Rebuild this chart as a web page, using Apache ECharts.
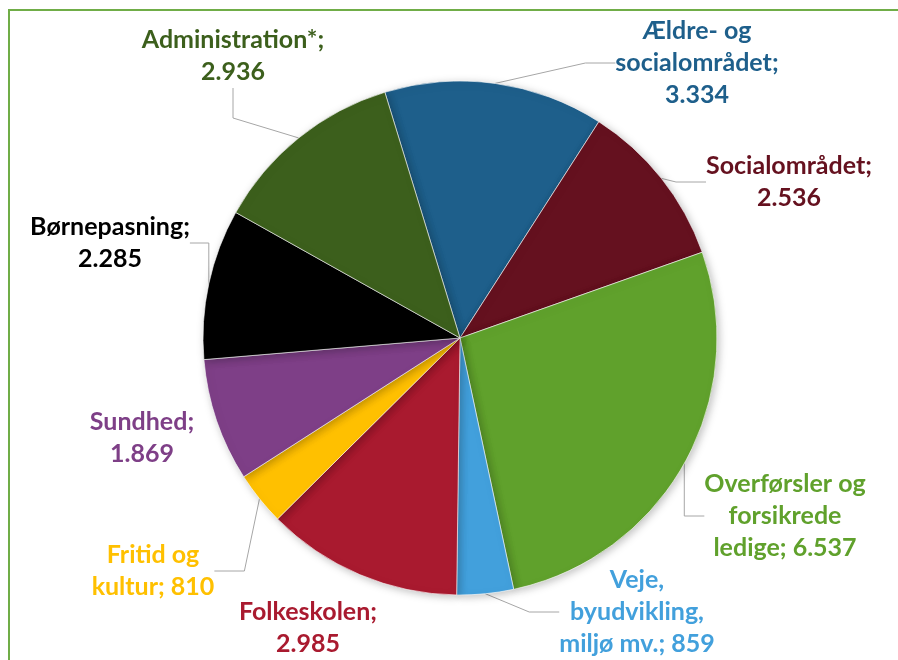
<!DOCTYPE html>
<html>
<head>
<meta charset="utf-8">
<script src="https://cdn.jsdelivr.net/npm/echarts@6/dist/echarts.min.js"></script>
<style>
  html, body { margin: 0; padding: 0; background: #fff; }
  #chart { width: 898px; height: 660px; }
</style>
</head>
<body>
<div id="chart"></div>
<script>
// kategorier (med linjeskift som i etiketterne)
const categories = [
  'Ældre- og\nsocialområdet',
  'Socialområdet',
  'Overførsler og\nforsikrede\nledige',
  'Veje,\nbyudvikling,\nmiljø mv.',
  'Folkeskolen',
  'Fritid og\nkultur',
  'Sundhed',
  'Børnepasning',
  'Administration*'
];
const values = [3334, 2536, 6537, 859, 2985, 810, 1869, 2285, 2936];
// værdien på ny linje efter "navn;" eller på samme linje
const valueOnNewLine = [true, true, false, false, true, false, true, true, true];
const colors = ['#1e5f8b', '#65111f', '#60a12c', '#42a0dc', '#a91a2f', '#ffc000', '#7e3f87', '#000000', '#3c5f1c'];
const showLeader = [true, true, true, true, false, true, false, true, true];

// etiketternes placering (midtpunkt)
const labelPos = [
  [697, 63], [789, 182], [785, 516], [637, 612], [308, 628],
  [153, 571], [142, 438], [110, 243], [233, 56]
];

const fmt = (v) => String(v).replace(/\B(?=(\d{3})+(?!\d))/g, '.');

const chart = echarts.init(document.getElementById('chart'));

const data = categories.map((name, i) => ({
  name,
  value: values[i],
  itemStyle: { color: colors[i] },
  label: { color: colors[i] },
  labelLine: { show: showLeader[i] }
}));

const option = {
  animation: false,
  graphic: [{
    type: 'rect',
    shape: { x: 9, y: 10, width: 900, height: 660 },
    style: { fill: 'none', stroke: '#70ad47', lineWidth: 2 },
    silent: true
  }],
  series: [{
    type: 'pie',
    center: [460, 338],
    radius: 257,
    startAngle: 107,
    clockwise: true,
    avoidLabelOverlap: false,
    data,
    itemStyle: {
      borderColor: '#ffffff',
      borderWidth: 0.6,
      shadowBlur: 8,
      shadowColor: 'rgba(0,0,0,0.25)',
      shadowOffsetX: 2,
      shadowOffsetY: 2
    },
    label: {
      show: true,
      position: 'outside',
      fontFamily: 'Lato',
      fontWeight: 'bold',
      fontSize: 25,
      lineHeight: 32,
      align: 'center',
      formatter: (p) => p.name + ';' + (valueOnNewLine[p.dataIndex] ? '\n' : ' ') + fmt(p.value)
    },
    labelLine: {
      show: true,
      lineStyle: { color: '#a6a6a6', width: 1 }
    },
    labelLayout: (params) => {
      const pos = labelPos[params.dataIndex];
      return { x: pos[0], y: pos[1], align: 'center', verticalAlign: 'middle' };
    }
  }]
};

chart.setOption(option);
</script>
</body>
</html>
